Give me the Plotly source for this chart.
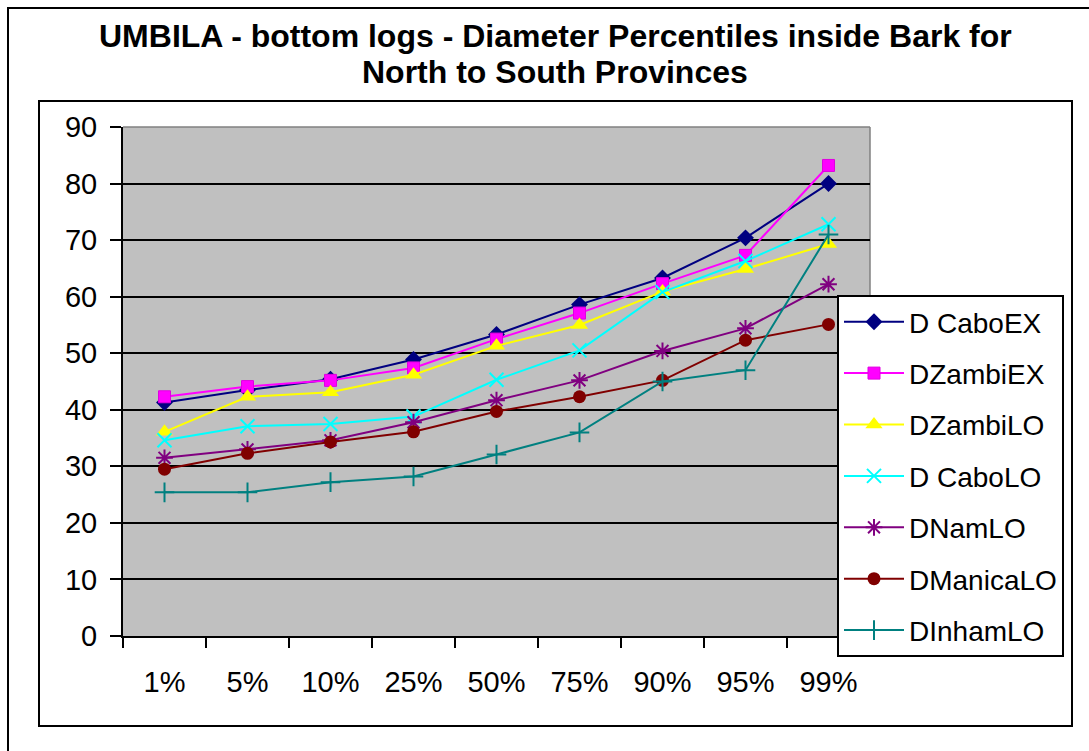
import plotly.graph_objects as go

# Diameter percentiles inside bark (cm) per province / log class
percentiles = ["1%", "5%", "10%", "25%", "50%", "75%", "90%", "95%", "99%"]
d_cabo_ex = [41.3, 43.5, 45.4, 48.9, 53.3, 58.6, 63.3, 70.4, 80.0]
d_zambi_ex = [42.3, 44.1, 45.2, 47.4, 52.5, 57.1, 62.3, 67.3, 83.2]
d_zambi_lo = [36.1, 42.3, 43.1, 46.2, 51.3, 55.0, 60.9, 64.9, 69.3]
d_cabo_lo = [34.6, 37.1, 37.5, 38.8, 45.3, 50.5, 60.8, 66.3, 72.8]
d_nam_lo = [31.5, 33.0, 34.6, 37.8, 41.7, 45.2, 50.4, 54.4, 62.2]
d_manica_lo = [29.5, 32.3, 34.3, 36.1, 39.7, 42.3, 45.2, 52.3, 55.1]
d_inham_lo = [25.4, 25.4, 27.2, 28.2, 32.1, 36.0, 45.0, 47.0, 71.0]

series_names = ["D CaboEX", "DZambiEX", "DZambiLO", "D CaboLO",
                "DNamLO", "DManicaLO", "DInhamLO"]
series_values = [d_cabo_ex, d_zambi_ex, d_zambi_lo, d_cabo_lo,
                 d_nam_lo, d_manica_lo, d_inham_lo]

styles = [
    dict(color="#000080", symbol="diamond", size=13, lw=0, lc="#000080"),
    dict(color="#FF00FF", symbol="square", size=12, lw=1, lc="#E000E0"),
    dict(color="#FFFF00", symbol="triangle-up", size=15, lw=0, lc="#FFFF00"),
    dict(color="#00FFFF", symbol="x-thin-open", size=14, lw=2, lc="#00FFFF"),
    dict(color="#800080", symbol="asterisk-open", size=14, lw=2, lc="#800080"),
    dict(color="#800000", symbol="circle", size=13, lw=0, lc="#800000"),
    dict(color="#008080", symbol="cross-thin-open", size=14, lw=2, lc="#008080"),
]

W, H = 1089, 751
L, R, T, B = 123, 870, 127, 636  # plot area in pixels
FONT = "Arial, Liberation Sans, sans-serif"


def px_x(p):
    return (p - L) / (R - L)


def px_y(p):
    return (B - p) / (B - T)


fig = go.Figure()
for i, (name, vals, st) in enumerate(zip(series_names, series_values, styles)):
    fig.add_trace(go.Scatter(
        x=percentiles, y=vals, name=name, mode="lines+markers",
        legendgroup=f"g{i}",
        line=dict(color=st["color"], width=2),
        marker=dict(symbol=st["symbol"], size=st["size"], color=st["color"],
                    line=dict(width=st["lw"], color=st["lc"])),
    ))

shapes = [
    # outer chart frame
    dict(type="rect", xref="paper", yref="paper",
         x0=px_x(8), x1=px_x(W + 20), y0=px_y(H + 20), y1=px_y(8),
         line=dict(color="black", width=2), layer="below"),
    # inner plot-region frame
    dict(type="rect", xref="paper", yref="paper",
         x0=px_x(39), x1=px_x(1072), y0=px_y(726), y1=px_y(101),
         line=dict(color="black", width=2), layer="below"),
    # plot area border (top and right edges)
    dict(type="line", xref="paper", yref="paper", x0=0, x1=1, y0=1, y1=1,
         line=dict(color="#808080", width=1.5), layer="between"),
    dict(type="line", xref="paper", yref="paper", x0=1, x1=1, y0=0, y1=1,
         line=dict(color="#808080", width=1.5), layer="between"),
]

title_cx = px_x(555)
annotations = [
    dict(text="<b>UMBILA - bottom logs - Diameter Percentiles inside Bark for</b>",
         xref="paper", yref="paper", x=title_cx, y=px_y(36),
         xanchor="center", yanchor="middle", showarrow=False,
         font=dict(family=FONT, size=32, color="black")),
    dict(text="<b>North to South Provinces</b>",
         xref="paper", yref="paper", x=title_cx, y=px_y(72),
         xanchor="center", yanchor="middle", showarrow=False,
         font=dict(family=FONT, size=32, color="black")),
]

fig.update_layout(
    width=W, height=H,
    margin=dict(l=L, r=W - R, t=T, b=H - B),
    paper_bgcolor="white",
    plot_bgcolor="#C0C0C0",
    font=dict(family=FONT, size=28, color="black"),
    shapes=shapes,
    annotations=annotations,
    showlegend=True,
    legend=dict(
        x=px_x(837), y=px_y(295), xanchor="left", yanchor="top",
        bgcolor="white", bordercolor="black", borderwidth=2,
        font=dict(family=FONT, size=28, color="black"),
        traceorder="grouped", tracegroupgap=12, itemwidth=60,
    ),
    xaxis=dict(
        type="category", range=[-0.5, 8.5],
        showgrid=False, zeroline=False,
        showline=True, linecolor="black", linewidth=2,
        ticks="outside", tickson="boundaries", ticklen=10,
        tickcolor="black", tickwidth=1.5,
        ticklabelstandoff=19,
        tickfont=dict(family=FONT, size=29, color="black"),
    ),
    yaxis=dict(
        range=[0, 90], dtick=10, tick0=0,
        showgrid=True, gridcolor="black", gridwidth=1.5,
        zeroline=False,
        showline=True, linecolor="black", linewidth=2,
        ticks="outside", ticklen=11, tickcolor="black", tickwidth=1.5,
        ticklabelstandoff=7,
        tickfont=dict(family=FONT, size=29, color="black"),
    ),
)

fig.write_html("out.html")
